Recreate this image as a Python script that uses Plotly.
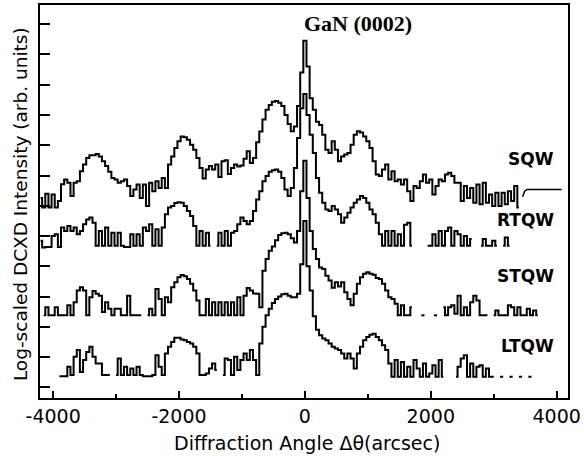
import plotly.graph_objects as go

# ---- data (log-scaled intensity, arbitrary units, curves stacked) ----
STEP = 50  # arcsec between samples

sqw_start = -4200
sqw = [7.26, 6.94, 7.40, 6.94,
       7.37, 6.94, 7.16, 7.71, 7.87, 7.76, 7.32, 7.76, 7.81, 8.14, 8.36, 8.58, 8.67, 8.67, 8.71, 8.63, 8.47, 8.31, 8.12, 7.92,
       7.87, 7.76, 7.81, 7.87, 7.65, 7.32, 7.54, 7.70, 7.26, 7.70, 6.99, 7.76, 7.48, 7.81, 7.59, 7.92, 7.59, 8.36, 8.63, 8.91,
       9.13, 9.29, 9.26, 9.18, 9.02, 8.85, 8.58, 8.25, 7.90, 8.20, 8.31, 8.20, 8.36, 7.95, 8.47, 8.50, 8.05, 8.25, 8.36, 8.30,
       8.33, 8.55, 8.80, 8.41, 8.58, 9.10, 9.45, 9.85, 10.17, 10.33, 10.44, 10.46, 10.40, 10.30, 10.00, 9.70, 9.46, 9.62, 10.30, 11.40,
       12.45, 11.60, 10.55, 10.17, 9.78, 9.67, 9.35, 8.85, 8.74, 9.13, 8.85, 8.47, 8.63, 8.69, 8.74, 9.02, 9.35, 9.46, 9.42, 9.29,
       9.13, 8.91, 8.47, 8.03, 7.98, 8.20, 8.36, 7.87, 8.14, 7.81, 7.87, 7.70, 7.87, 7.48, 7.16, 7.65, 7.59, 7.81, 8.03, 7.76,
       7.87, 7.37, 7.65, 7.87, 7.81, 8.03, 8.09, 7.98, 7.76, 7.76, 7.16, 7.65, 7.26, 7.59, 7.10, 7.70, 7.05, 7.76, 7.10, 7.37,
       6.99, 7.43, 6.99, 7.43, 7.05, 7.48, 7.16, 7.65, 6.94]
sqw_tail_angle = [3460, 3490, 3530, 4080]
sqw_tail_val = [7.30, 7.48, 7.54, 7.54]

rtqw_start = -4200
rtqw = [5.84, 5.62, 5.64, 5.64,
        6.00, 6.06, 5.64, 6.28, 6.17, 6.33, 6.17, 6.28, 6.06, 6.17, 6.39, 6.55, 6.61, 6.44, 5.68, 6.17, 5.68, 6.28, 5.68, 6.11,
        5.68, 6.11, 5.68, 5.64, 5.64, 6.06, 5.68, 6.06, 5.68, 6.28, 6.17, 6.39, 5.68, 6.22, 5.68, 6.28, 6.72, 6.94, 6.99, 7.09,
        7.12, 7.10, 6.99, 6.83, 6.66, 6.33, 5.68, 6.17, 5.68, 6.11, 5.68, None, 5.68, 6.11, 5.68, 6.17, 5.68, 6.11, 6.17, 6.39,
        6.61, 6.50, 6.39, 6.50, 6.83, 7.21, 7.48, 7.81, 7.98, 8.12, 8.17, 8.20, 8.12, 7.92, 7.54, 7.32, 7.59, 8.25, 9.24, 10.22,
        10.69, 10.00, 9.35, 8.74, 7.92, 7.43, 7.10, 6.88, 6.83, 6.99, 6.88, 6.72, 6.44, 6.61, 6.77, 6.94, 7.10, 7.21, 7.32, 7.26,
        7.10, 6.88, 6.72, 6.44, 6.06, 5.68, 6.17, 5.68, 6.17, 5.68, 6.06, 5.68, 6.37, 6.44, 5.68, None, None, None, None, 5.68,
        5.68, 6.06, 5.68, 6.17, 5.68, 6.17, 6.28, 5.68, 6.17, 6.06, 5.68, 6.00, 5.68, 5.90, None, None, 5.68, 5.90, 5.68, 5.68,
        5.84, 5.68, None, 5.68, 5.95, 5.68]

stqw_start = -4150
stqw = [3.38, 3.65, 3.38,
        3.38, 3.65, 3.38, 3.38, 3.38, 3.71, 3.38, 3.81, 4.20, 4.31, 4.20, 3.38, 3.98, 4.18, 4.09, 4.03, 3.49, 3.81, 3.60, 3.38,
        3.60, 3.60, 3.38, 3.38, 4.03, 3.38, 3.38, 3.38, 3.38, None, 3.38, 3.60, 3.38, 4.25, 3.92, 3.38, 3.98, 3.81, 4.31, 4.47,
        4.64, 4.71, 4.67, 4.58, 4.42, 4.20, 3.87, 3.38, 3.38, 3.92, 3.38, 3.81, 3.38, 3.81, 3.38, 3.81, 3.38, 3.81, 3.38, 3.98,
        3.38, 4.03, 4.28, 4.20, 4.10, 4.09, 3.65, 4.85, 5.24, 5.51, 5.65, 5.86, 6.03, 6.09, 6.11, 6.06, 5.93, 5.79, 6.17, 7.48,
        8.49, 7.26, 6.17, 5.57, 5.24, 4.96, 4.91, 4.69, 4.53, 4.29, 4.47, 4.33, 4.47, 4.14, 3.92, 3.71, 4.09, 4.42, 4.64, 4.75,
        4.80, 4.75, 4.72, 4.61, 4.58, 4.42, 4.20, 3.98, 3.92, 3.76, 3.38, 3.71, 3.38, 3.38, 3.65, None, None, 3.38, 3.38, None,
        None, 3.38, 3.38, None, 3.65, 3.38, 3.65, 3.71, 3.43, 4.03, 3.38, 3.65, 3.38, 3.81, 4.03, 3.87, 3.38, 3.38, 3.38, None,
        3.38, 3.54, 3.38, 3.38, 3.38, 3.71, 3.65, 3.38, 3.65, 3.38, 3.38, 3.60, 3.38, 3.54, 3.38]

ltqw_start = -3900
ltqw = [1.37, 1.37, 1.37, 1.68, 1.41, 2.01, 2.23, 1.51, 1.90, 2.17, 2.34, 2.01, 1.79, 1.79, 1.41, 1.41, 1.41, None,
        1.41, 1.95, 1.41, 1.68, 1.41, 1.62, 1.41, 1.68, 1.41, 1.37, 1.37, 1.37, 1.41, 2.06, 1.68, 1.41, 2.12, 2.34, 2.50, 2.64,
        2.64, 2.58, 2.56, 2.50, 2.45, 2.34, 2.12, 1.41, 1.41, 1.46, 1.62, 1.79, 1.57, None, 1.41, 1.95, 1.90, 1.41, 2.01, 1.57,
        1.90, 2.12, 1.90, 2.23, 1.90, 1.41, 2.45, 3.00, 3.38, 3.60, 3.79, 3.92, 4.00, 4.08, 4.09, 4.03, 3.98, 3.98, 4.09, 5.07,
        6.50, 5.00, 4.20, 3.35, 2.90, 2.72, 2.61, 2.56, 2.45, 2.34, 2.28, 2.23, 2.12, 1.95, 2.12, 1.95, 1.62, 2.12, 2.34, 2.56,
        2.66, 2.74, 2.77, 2.66, 2.56, 2.39, 2.23, 1.79, 1.35, 1.90, 1.35, 1.84, 1.35, 1.68, 1.35, 1.90, 1.62, 1.35, 1.79, 1.35,
        1.46, 1.73, 1.35, 1.90, 1.35, None, None, None, 1.35, 1.68, 1.95, 2.06, 1.35, 1.79, 1.35, 1.68, 1.73, 1.35, 1.62, 1.35,
        1.35, None, 1.35, 1.35, None, 1.35, 1.35, None, 1.35, 1.35, None, 1.35, 1.35]

curve_names = ["SQW", "RTQW", "STQW", "LTQW"]
label_levels = [8.55, 6.54, 4.68, 2.35]

x_tickvals = [-4000, -2000, 0, 2000, 4000]
x_ticktext = ["-4000", "-2000", "0", "2000", "4000"]
y_tickvals = list(range(1, 14))


def angles(start, n):
    return [start + STEP * i for i in range(n)]


fig = go.Figure()
line_style = dict(color="black", width=2, shape="hvh")
for start, vals, name in [(sqw_start, sqw, "SQW"), (rtqw_start, rtqw, "RTQW"),
                          (stqw_start, stqw, "STQW"), (ltqw_start, ltqw, "LTQW")]:
    fig.add_trace(go.Scatter(x=angles(start, len(vals)), y=vals, mode="lines",
                             line=line_style, connectgaps=False, name=name,
                             showlegend=False, hoverinfo="skip"))
fig.add_trace(go.Scatter(x=sqw_tail_angle, y=sqw_tail_val, mode="lines",
                         line=dict(color="black", width=1.5), showlegend=False,
                         hoverinfo="skip"))

annotations = []
for name, lev in zip(curve_names, label_levels):
    annotations.append(dict(x=3990, y=lev, xref="x", yref="y", text="<b>%s</b>" % name,
                            showarrow=False, xanchor="right", yanchor="middle",
                            font=dict(family="DejaVu Sans", size=17, color="black")))
annotations.append(dict(x=839, y=13.01, xref="x", yref="y", text="<b>GaN (0002)</b>",
                        showarrow=False, xanchor="center", yanchor="middle",
                        font=dict(family="Liberation Serif", size=22, color="black")))
annotations.append(dict(x=0.5065, y=-0.114, xref="paper", yref="paper",
                        text="Diffraction Angle \u0394\u03b8(arcsec)", showarrow=False,
                        xanchor="center", yanchor="middle",
                        font=dict(family="DejaVu Sans", size=19, color="black")))
annotations.append(dict(x=-0.0355, y=0.494, xref="paper", yref="paper",
                        text="Log-scaled DCXD Intensity (arb. units)", showarrow=False,
                        textangle=-90, xanchor="center", yanchor="middle",
                        font=dict(family="DejaVu Sans", size=18.5, color="black")))

fig.update_layout(
    width=584, height=456,
    margin=dict(l=40, r=9, t=3, b=58),
    paper_bgcolor="white", plot_bgcolor="white",
    annotations=annotations,
    xaxis=dict(range=[-4209, 4180], tickvals=x_tickvals, ticktext=x_ticktext,
               ticks="inside", ticklen=7, tickwidth=1.5, tickcolor="black",
               ticklabeloverflow="allow",
               showline=True, linecolor="black", linewidth=2, mirror=True,
               showgrid=False, zeroline=False,
               tickfont=dict(family="DejaVu Sans", size=19, color="black"),
               minor=dict(dtick=1000, tick0=0, ticks="inside", ticklen=4,
                          tickwidth=1.5, tickcolor="black", showgrid=False)),
    yaxis=dict(range=[0.648, 13.634], tickvals=y_tickvals, showticklabels=False,
               ticks="inside", ticklen=10, tickwidth=1.5, tickcolor="black",
               showline=True, linecolor="black", linewidth=2, mirror=True,
               showgrid=False, zeroline=False),
)

fig.write_html("out.html")
